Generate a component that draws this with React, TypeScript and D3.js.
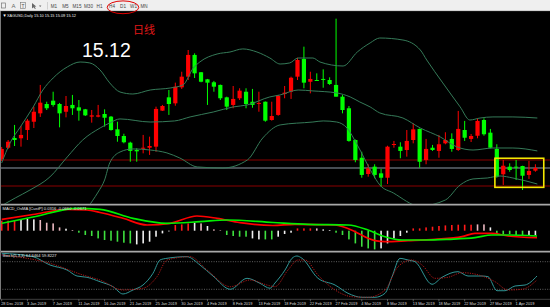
import React from "react";
import * as d3 from "d3";

// ---------- data ----------
const symbolTitle = "XAGUSD,Daily";
const lastOHLC = ["15.10", "15.15", "15.09", "15.12"];
const bigPriceLabel = "15.12";
const timeframeNote = "日线";
const timeframes = ["M1", "M5", "M15", "M30", "H1", "H4", "D1", "W1", "MN"];
const dateLabels = [
  "28 Dec 2018", "3 Jan 2019", "7 Jan 2019", "11 Jan 2019", "16 Jan 2019", "21 Jan 2019",
  "25 Jan 2019", "30 Jan 2019", "4 Feb 2019", "8 Feb 2019", "13 Feb 2019", "18 Feb 2019",
  "22 Feb 2019", "27 Feb 2019", "4 Mar 2019", "8 Mar 2019", "13 Mar 2019", "18 Mar 2019",
  "22 Mar 2019", "27 Mar 2019", "1 Apr 2019",
];
const labelStep = 4;

const opens = [
  15.188, 15.272, 15.345, 15.343, 15.405, 15.467, 15.53, 15.6, 15.625, 15.6,
  15.542, 15.593, 15.575, 15.56, 15.505, 15.505, 15.525, 15.505, 15.41, 15.36,
  15.31, 15.255, 15.265, 15.272, 15.28, 15.55, 15.65, 15.605, 15.725, 15.805,
  15.968, 15.838, 15.785, 15.763, 15.743, 15.65, 15.593, 15.643, 15.692, 15.617,
  15.602, 15.617, 15.48, 15.518, 15.675, 15.692, 15.805, 15.938, 15.767, 15.78,
  15.788, 15.78, 15.743, 15.655, 15.568, 15.33, 15.197, 15.075, 15.13, 15.08,
  15.047, 15.293, 15.28, 15.255, 15.33, 15.413, 15.18, 15.272, 15.248, 15.305,
  15.338, 15.255, 15.405, 15.338, 15.362, 15.48, 15.385, 15.263, 15.073, 15.13,
  15.13, 15.135, 15.068, 15.1,
];
const highs = [
  15.278, 15.33, 15.443, 15.435, 15.488, 15.58, 15.743, 15.617, 15.692, 15.608,
  15.66, 15.668, 15.63, 15.563, 15.555, 15.593, 15.56, 15.51, 15.467, 15.377,
  15.317, 15.268, 15.368, 15.355, 15.58, 15.593, 15.705, 15.76, 15.842, 16.005,
  15.98, 15.84, 15.788, 15.773, 15.746, 15.655, 15.735, 15.718, 15.718, 15.713,
  15.692, 15.619, 15.617, 15.668, 15.735, 15.805, 15.947, 16.03, 15.842, 15.83,
  15.86, 15.8, 16.24, 15.668, 15.585, 15.334, 15.242, 15.148, 15.148, 15.113,
  15.287, 15.323, 15.313, 15.405, 15.455, 15.416, 15.338, 15.293, 15.368, 15.388,
  15.38, 15.548, 15.473, 15.375, 15.493, 15.493, 15.413, 15.298, 15.18, 15.155,
  15.18, 15.137, 15.173, 15.148,
];
const lows = [
  15.173, 15.263, 15.285, 15.28, 15.33, 15.42, 15.503, 15.555, 15.58, 15.425,
  15.5, 15.518, 15.475, 15.51, 15.46, 15.5, 15.43, 15.4, 15.317, 15.305,
  15.167, 15.167, 15.23, 15.218, 15.242, 15.548, 15.518, 15.587, 15.713, 15.78,
  15.795, 15.763, 15.593, 15.692, 15.63, 15.555, 15.568, 15.63, 15.568, 15.572,
  15.542, 15.467, 15.475, 15.512, 15.643, 15.638, 15.78, 15.718, 15.68, 15.773,
  15.722, 15.743, 15.655, 15.53, 15.317, 15.163, 15.047, 15.055, 15.043, 14.98,
  15.0, 15.272, 15.193, 15.205, 15.305, 15.122, 15.148, 15.248, 15.197, 15.298,
  15.242, 15.248, 15.323, 15.315, 15.343, 15.362, 15.268, 15.047, 14.993, 15.092,
  15.03, 14.955, 15.038, 15.092,
];
const closes = [
  15.263, 15.317, 15.33, 15.368, 15.475, 15.542, 15.61, 15.568, 15.593, 15.53,
  15.585, 15.568, 15.55, 15.515, 15.515, 15.515, 15.497, 15.405, 15.36, 15.313,
  15.248, 15.245, 15.272, 15.285, 15.563, 15.585, 15.6, 15.73, 15.805, 15.968,
  15.83, 15.767, 15.76, 15.73, 15.643, 15.58, 15.638, 15.7, 15.6, 15.593,
  15.608, 15.475, 15.51, 15.662, 15.685, 15.797, 15.93, 15.76, 15.788, 15.775,
  15.784, 15.75, 15.655, 15.555, 15.323, 15.18, 15.068, 15.118, 15.068, 15.047,
  15.28, 15.3, 15.248, 15.323, 15.41, 15.167, 15.263, 15.255, 15.298, 15.33,
  15.263, 15.413, 15.347, 15.36, 15.473, 15.373, 15.272, 15.055, 15.137, 15.105,
  15.126, 15.062, 15.098, 15.12,
];

// envelope lines [bar index, price]
const bandUpper: [number, number][] = [
  [0, 15.158], [1.3, 15.308], [2.9, 15.428], [4.9, 15.578], [6.4, 15.705], [8.0, 15.795],
  [10.2, 15.878], [12.2, 15.915], [13.7, 15.908], [15.3, 15.855], [16.8, 15.758], [18.4, 15.69],
  [20.4, 15.675], [23.1, 15.705], [26.2, 15.72], [28.2, 15.743], [29.8, 15.87], [30.8, 15.915],
  [33.5, 15.975], [35.5, 15.99], [37.5, 16.013], [39.7, 15.99], [41.7, 15.945], [43.3, 15.9],
  [44.8, 15.908], [46.1, 15.945], [48.4, 15.945], [49.5, 15.915], [53.1, 15.885], [55.3, 15.99],
  [57.3, 16.058], [58.8, 16.095], [62.4, 16.08], [65.1, 16.005], [66.1, 15.93], [68.6, 15.758],
  [71.3, 15.578], [72.8, 15.48], [74.4, 15.495], [76.4, 15.503], [79.5, 15.503], [83.3, 15.495],
];
const bandMiddle: [number, number][] = [
  [0, 14.838], [2.1, 14.895], [4.4, 14.955], [7.5, 15.053], [10.2, 15.203], [12.6, 15.33],
  [15.3, 15.42], [16.8, 15.458], [18.4, 15.488], [23.1, 15.465], [26.9, 15.473], [29.3, 15.503],
  [32.9, 15.54], [36.0, 15.578], [38.2, 15.593], [41.7, 15.653], [43.3, 15.668], [46.1, 15.705],
  [48.4, 15.698], [52.1, 15.683], [54.2, 15.653], [55.7, 15.615], [57.3, 15.578], [58.8, 15.533],
  [62.4, 15.495], [65.1, 15.42], [68.2, 15.353], [70.8, 15.278], [73.3, 15.255], [76.4, 15.27],
  [79.5, 15.27], [83.3, 15.248],
];
const bandLower: [number, number][] = [
  [13.1, 14.805], [14.1, 14.873], [15.0, 14.94], [16.0, 15.03], [16.8, 15.158], [18.4, 15.24],
  [20.4, 15.263], [23.1, 15.255], [25.7, 15.233], [27.7, 15.195], [30.4, 15.128], [34.4, 15.12],
  [38.2, 15.18], [40.6, 15.345], [43.3, 15.443], [48.4, 15.465], [50.0, 15.473], [52.1, 15.465],
  [53.7, 15.42], [55.3, 15.293], [57.6, 15.083], [58.8, 14.993], [60.9, 14.933], [65.0, 14.835],
  [69.0, 14.88], [71.3, 14.993], [73.3, 15.038], [75.5, 15.045], [77.5, 15.06], [79.5, 15.045],
  [83.3, 15.0],
];
const levelPrices = [15.18, 14.985];
const bidPrice = 15.12;
const highlightBox = { from: 76.7, to: 84.3, top: 15.193, bottom: 14.975 };

// MACD_OsMA panel
const osma = [
  0.1, 0.1, 0.107, 0.113, 0.12, 0.113, 0.107, 0.08, 0.073, 0.033,
  0.02, 0.007, -0.02, -0.043, -0.053, -0.077, -0.093, -0.1, -0.11, -0.12,
  -0.127, -0.137, -0.127, -0.11, -0.06, -0.027, -0.007, 0.057, 0.063, 0.073,
  0.08, 0.073, 0.047, 0.013, 0.003, -0.043, -0.053, -0.06, -0.06, -0.077,
  -0.087, -0.087, -0.087, -0.06, -0.033, -0.02, 0.023, 0.023, 0.023, 0.023,
  0.013, 0.007, -0.02, -0.043, -0.087, -0.127, -0.16, -0.177, -0.187, -0.177,
  -0.127, -0.077, -0.053, -0.02, 0.023, 0.023, 0.033, 0.04, 0.047, 0.053,
  0.057, 0.06, 0.06, 0.06, 0.063, 0.063, 0.033, -0.027, -0.037, -0.033,
  -0.043, -0.043, -0.053, -0.043,
];
// r = rising above zero, p/w = easing, g = falling below zero
const osmaState = "rrrwwwppppwpgggggggggwwwwwwrrrwpwppggggwwggwwwrrrpwwgggggggwwwwwrrrrrrrrrrppwgggggww".split("");
const macdMain: [number, number][] = [
  [0, 0.112], [4.87, 0.162], [10.16, 0.212], [13.27, 0.207], [15.29, 0.182], [18.86, 0.124],
  [22.6, 0.057], [26.17, 0.074], [30.37, 0.147], [33.48, 0.124], [37.06, 0.08], [42.19, 0.052],
  [45.6, 0.064], [51.84, 0.057], [54.95, -0.01], [56.97, -0.076], [58.06, -0.1], [59.61, -0.11],
  [63.19, -0.1], [67.39, -0.086], [71.59, -0.06], [73.61, -0.026], [76.25, -0.026], [78.74, -0.053],
  [83.25, -0.07],
];
const macdSignal: [number, number][] = [
  [0, 0.074], [4.87, 0.137], [11.71, 0.224], [15.29, 0.214], [20.42, 0.124], [25.71, 0.074],
  [30.84, 0.09], [35.04, 0.107], [42.19, 0.082], [47.64, 0.064], [53.86, 0.057], [56.97, 0.007],
  [59.61, -0.06], [62.25, -0.093], [65.83, -0.093], [69.41, -0.086], [73.61, -0.07], [76.25, -0.043],
  [78.74, -0.043], [83.25, -0.053],
];
const macdTitle = "MACD_OsMA [CustP] 0.0316 -0.0660 -0.0671";

// Stochastic panel
const stochK: [number, number][] = [
  [0, 98.3], [4.87, 90.9], [7.51, 72.8], [10.16, 62], [11.71, 48.9], [13.27, 46.1], [15.29, 36.5],
  [17.31, 25.7], [18.86, 9.8], [20.42, 18.5], [21.97, 29.3], [23.53, 54.8], [24.62, 83.7],
  [25.71, 87.4], [28.82, 90.9], [30.84, 72.8], [32.86, 48.9], [35.56, 20], [38.15, 43.9],
  [40.17, 33], [41.73, 22.2], [42.5, 33.7], [44.06, 61.9], [45.15, 87.4], [45.92, 92.4],
  [46.7, 87.4], [49.19, 43.9], [51.84, 29.3], [53.86, 11.3], [56.04, 2.6], [58.06, 2.6],
  [59.61, 11.3], [60.7, 47.2], [61.94, 87.2], [63.19, 83.7], [64.28, 80], [66.92, 30.9],
  [68.48, 46.1], [70.96, 58.3], [72.52, 48.9], [74.7, 48.9], [75.63, 47.4], [77.03, 16.9],
  [78.27, 16.9], [79.83, 27.2], [81.39, 29.3], [83.25, 48.9],
];
const stochD: [number, number][] = [
  [0, 94.6], [7.51, 76.5], [12.64, 51.1], [15.29, 40.2], [18.86, 18.5], [21.97, 22.2],
  [24.15, 47.4], [25.71, 83.7], [29.28, 90.9], [31.93, 62], [35.56, 25.7], [38.62, 40.2],
  [41.26, 29.3], [42.5, 25.7], [44.53, 62], [46.08, 83.7], [47.17, 83.7], [49.19, 51.1],
  [51.84, 18.5], [54.49, 3.9], [56.97, 2.6], [59.61, 18.5], [61.63, 69.1], [63.81, 83.7],
  [65.37, 72.8], [67.39, 43.9], [69.41, 46.1], [71.59, 56.1], [74.7, 48.9], [76.72, 36.5],
  [78.74, 18.5], [80.92, 20], [83.25, 40.2],
];
const stochLevels = [80, 20];
const stochTitle = "Stoch(5,3,3) 64.6464 59.8227";

// ---------- drawing ----------
const W = 550;
const H = 307;
const FONT = "'Liberation Sans', Arial, sans-serif";

const stateColor: Record<string, string> = {
  r: "#ff1a1a",
  p: "#e9b7bf",
  w: "#f0f0f0",
  g: "#3ee03e",
};

export default function App() {
  const n = closes.length;
  const x = d3.scaleLinear().domain([0, n - 1]).range([1.7, 535.4]);
  const y = d3.scaleLinear().domain([14.955, 16.23]).range([190, 20]);
  const yM = d3.scaleLinear().domain([-0.25, 0.25]).range([255.7, 205.7]);
  const yS = d3.scaleLinear().domain([0, 100]).range([298.5, 252.5]);

  const mainLine = d3
    .line<[number, number]>()
    .x((d) => x(d[0]))
    .y((d) => y(d[1]))
    .curve(d3.curveMonotoneX);
  const macdLine = d3
    .line<[number, number]>()
    .x((d) => x(d[0]))
    .y((d) => yM(d[1]))
    .curve(d3.curveMonotoneX);
  const stochLine = d3
    .line<[number, number]>()
    .x((d) => x(d[0]))
    .y((d) => yS(d[1]))
    .curve(d3.curveMonotoneX);

  const tfX = [54, 65.5, 77, 88.5, 99.5, 112, 123, 133.5, 144];
  const bandColor = "#357a58";

  return (
    <svg
      width={W}
      height={H}
      viewBox={`0 0 ${W} ${H}`}
      style={{ position: "absolute", left: 0, top: 0, display: "block" }}
    >
      <defs>
        <clipPath id="mainClip">
          <rect x={0} y={11} width={W} height={192.8} />
        </clipPath>
        <clipPath id="macdClip">
          <rect x={0} y={205.6} width={W} height={45.4} />
        </clipPath>
        <clipPath id="stochClip">
          <rect x={0} y={252.8} width={W} height={46} />
        </clipPath>
      </defs>
      <rect x={0} y={0} width={W} height={H} fill="#000" />

      {/* toolbar */}
      <rect x={0} y={0} width={W} height={11} fill="#efefef" />
      <line x1={0} x2={W} y1={10.75} y2={10.75} stroke="#9a9a9a" strokeWidth={0.5} />
      <rect x={1.5} y={3} width={4} height={5} fill="none" stroke="#777" strokeWidth={0.7} />
      <text x={11.5} y={8.4} fontFamily={FONT} fontSize={6} fill="#666">A</text>
      <rect x={20.5} y={2.5} width={5} height={6} fill="none" stroke="#777" strokeWidth={0.6} />
      <text x={23} y={7.8} fontFamily={FONT} fontSize={4.8} fill="#555" textAnchor="middle">T</text>
      <path d="M32,3 L32,8.5 L33.5,7.2 L35,9 L35.8,8.5 L34.5,6.8 L36.3,6.6 Z" fill="#666" />
      <path d="M39,5.6 L41.4,5.6 L40.2,7 Z" fill="#666" />
      <line x1={47.5} x2={47.5} y1={2} y2={9.5} stroke="#bbb" strokeWidth={0.6} />
      {timeframes.map((t, i) => (
        <text
          key={t}
          x={tfX[i]}
          y={7.9}
          fontFamily={FONT}
          fontSize={4.6}
          fill="#444"
          textAnchor="middle"
        >
          {t}
        </text>
      ))}

      {/* main panel */}
      <g clipPath="url(#mainClip)">
        {levelPrices.map((p) => (
          <line key={p} x1={0} x2={W} y1={y(p)} y2={y(p)} stroke="#8a0000" strokeWidth={1} />
        ))}
        <line x1={0} x2={W} y1={y(bidPrice)} y2={y(bidPrice)} stroke="#474d53" strokeWidth={2} />
        {opens.map((o, i) => {
          const c = closes[i];
          const up = c >= o;
          const col = up ? "#ff0000" : "#00ff00";
          const cx = x(i);
          const yt = y(Math.max(o, c));
          const yb = y(Math.min(o, c));
          return (
            <g key={i}>
              <line x1={cx} x2={cx} y1={y(highs[i])} y2={y(lows[i])} stroke={col} strokeWidth={1} />
              <rect x={cx - 2.1} y={yt} width={4.2} height={Math.max(1, yb - yt)} fill={col} />
            </g>
          );
        })}
        {[bandUpper, bandMiddle, bandLower].map((b, k) => (
          <path key={k} d={mainLine(b) || ""} fill="none" stroke={bandColor} strokeWidth={1} />
        ))}
        <rect
          x={x(highlightBox.from)}
          y={y(highlightBox.top)}
          width={x(highlightBox.to) - x(highlightBox.from)}
          height={y(highlightBox.bottom) - y(highlightBox.top)}
          fill="none"
          stroke="#f5e800"
          strokeWidth={1.6}
        />
      </g>

      {/* main panel texts */}
      <text x={2.5} y={16.8} fontFamily={FONT} fontSize={4.2} fill="#fff">▼</text>
      <text
        x={7}
        y={16.8}
        fontFamily={FONT}
        fontSize={4.2}
        fill="#f2f2f2"
        textLength={69}
        lengthAdjust="spacingAndGlyphs"
      >
        {`${symbolTitle} ${lastOHLC.join(" ")}`}
      </text>
      <text
        x={133}
        y={34}
        fontFamily="'Noto Sans CJK SC', sans-serif"
        fontSize={11}
        fill="#e01818"
      >
        {timeframeNote}
      </text>
      <text
        x={82}
        y={57}
        fontFamily={FONT}
        fontSize={19.5}
        fill="#ffffff"
      >
        {bigPriceLabel}
      </text>

      {/* separators */}
      <line x1={0} x2={W} y1={204.6} y2={204.6} stroke="#a8a8a8" strokeWidth={1.8} />
      <line x1={0} x2={W} y1={251.7} y2={251.7} stroke="#a8a8a8" strokeWidth={1.8} />

      {/* MACD panel */}
      <g clipPath="url(#macdClip)">
        {osma.map((v, i) => (
          <rect
            key={i}
            x={x(i) - 0.8}
            y={Math.min(yM(v), yM(0))}
            width={1.6}
            height={Math.max(0.5, Math.abs(yM(v) - yM(0)))}
            fill={stateColor[osmaState[i]]}
          />
        ))}
        <path d={macdLine(macdMain) || ""} fill="none" stroke="#ff0000" strokeWidth={1.7} />
        <path d={macdLine(macdSignal) || ""} fill="none" stroke="#00ee00" strokeWidth={1.7} />
      </g>
      <text
        x={2.5}
        y={209.6}
        fontFamily={FONT}
        fontSize={4}
        fill="#e8e8e8"
        textLength={84}
        lengthAdjust="spacingAndGlyphs"
      >
        {macdTitle}
      </text>

      {/* Stochastic panel */}
      <g clipPath="url(#stochClip)">
        {stochLevels.map((lv) => (
          <line
            key={lv}
            x1={0}
            x2={W}
            y1={yS(lv)}
            y2={yS(lv)}
            stroke="#8a8a8a"
            strokeWidth={0.7}
            strokeDasharray="1 1.4"
          />
        ))}
        <path d={stochLine(stochK) || ""} fill="none" stroke="#2f9494" strokeWidth={1} />
        <path
          d={stochLine(stochD) || ""}
          fill="none"
          stroke="#b01818"
          strokeWidth={1}
          strokeDasharray="1.2 1.2"
        />
      </g>
      <text
        x={2.5}
        y={256.8}
        fontFamily={FONT}
        fontSize={4}
        fill="#e8e8e8"
        textLength={54}
        lengthAdjust="spacingAndGlyphs"
      >
        {stochTitle}
      </text>

      {/* left border and bottom axis */}
      <line x1={0.5} x2={0.5} y1={11} y2={299} stroke="#7a7a7a" strokeWidth={1} />
      <line x1={0} x2={W} y1={299.3} y2={299.3} stroke="#6a6a6a" strokeWidth={0.6} />
      {dateLabels.map((lab, k) => {
        const lx = x(k * labelStep);
        return (
          <g key={lab}>
            <line x1={lx} x2={lx} y1={299.3} y2={301.3} stroke="#aaa" strokeWidth={0.5} />
            <text x={lx - 0.5} y={305} fontFamily={FONT} fontSize={3.9} fill="#d8d8d8">
              {lab}
            </text>
          </g>
        );
      })}

      {/* timeframe highlight ellipse */}
      <ellipse cx={123} cy={7.3} rx={15.8} ry={6.4} fill="none" stroke="#e00000" strokeWidth={1} />
    </svg>
  );
}
